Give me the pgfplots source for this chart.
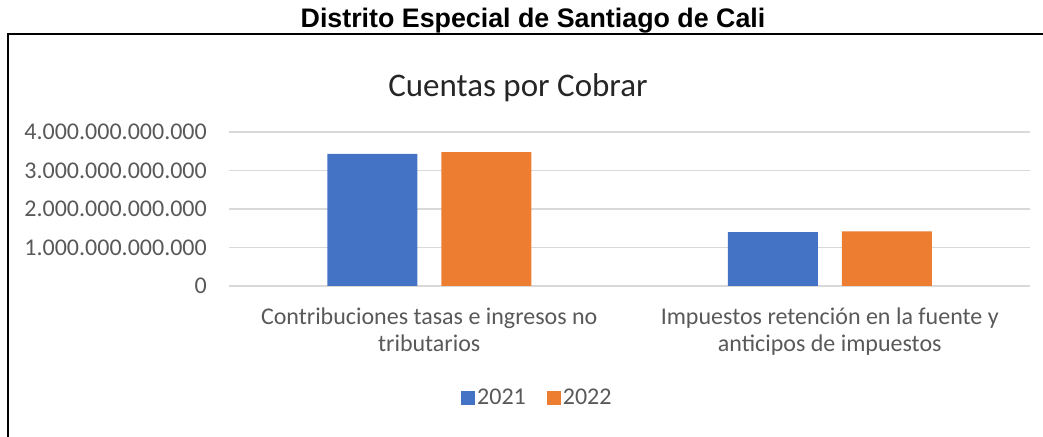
\documentclass[border=0pt]{standalone}
\usepackage{fontspec}
\setmainfont{Carlito}
\newfontfamily\arialf{Liberation Sans}
\usepackage{pgfplots}
\pgfplotsset{compat=1.18}

\definecolor{barblue}{HTML}{4472C4}
\definecolor{barorange}{HTML}{ED7D31}
\definecolor{txtgray}{HTML}{595959}
\definecolor{gridgray}{HTML}{D9D9D9}

\begin{document}
\begin{tikzpicture}[x=1pt,y=1pt]
\useasboundingbox (0,0) rectangle (1043,436);
% outer frame (left and top sides visible)
\draw[line width=2pt] (8,-5) -- (8,402) -- (1050,402);
\node[anchor=base, inner sep=0pt] at (533,408)
  {\arialf\fontsize{26.8}{30}\selectfont\bfseries Distrito Especial de Santiago de Cali};
\node[anchor=base, inner sep=0pt, text=black!85] at (518,339)
  {\fontsize{33}{38}\selectfont Cuentas por Cobrar};

\begin{axis}[
    at={(229pt,150pt)}, anchor=south west,
    scale only axis,
    width=801pt, height=154pt,
    ybar=24pt,
    bar width=90pt,
    xmin=-0.5, xmax=1.5,
    ymin=0, ymax=4e12,
    scaled y ticks=false,
    xtick=data,
    xticklabels={{Contribuciones tasas e ingresos no\\tributarios},
                 {Impuestos retención en la fuente y\\anticipos de impuestos}},
    ytick={0,1e12,2e12,3e12,4e12},
    yticklabels={0,1.000.000.000.000,2.000.000.000.000,3.000.000.000.000,4.000.000.000.000},
    major tick length=0pt,
    axis lines*=left,
    axis line style={draw=none},
    ymajorgrids,
    grid style={color=gridgray, line width=1.3pt},
    yticklabel style={anchor=east, inner sep=0pt, xshift=-22pt,
        text=txtgray, font=\fontsize{24}{27}\selectfont},
    xticklabel style={anchor=north, inner sep=0pt, yshift=-22pt, align=center,
        text=txtgray, font=\fontsize{24}{27}\selectfont},
    legend style={at={(0.385,-0.727)}, anchor=center, draw=none,
        font=\fontsize{24}{26}\selectfont, text=txtgray,
        /tikz/every even column/.append style={column sep=19pt}},
    legend columns=2,
    legend image code/.code={\fill[#1] (0pt,-7pt) rectangle (14pt,7pt);},
]
\addplot[fill=barblue, draw=none] coordinates {(0,3.43e12) (1,1.40e12)};
\addplot[fill=barorange, draw=none] coordinates {(0,3.48e12) (1,1.42e12)};
\legend{2021,2022}
\end{axis}
\end{tikzpicture}
\end{document}
